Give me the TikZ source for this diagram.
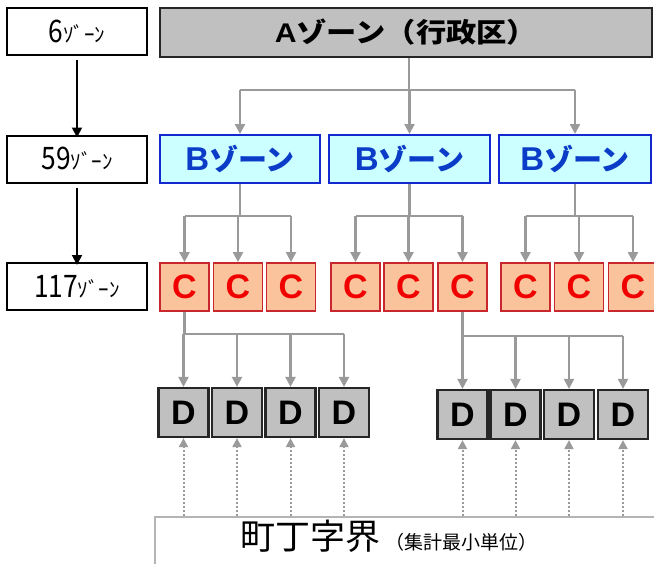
\documentclass[tikz,border=0pt]{standalone}
\usepackage{fontspec}
\setmainfont{Noto Sans CJK JP}
\newfontfamily\narrowfont[FakeStretch=0.85]{Noto Sans CJK JP}
\newfontfamily\jpwide[FakeStretch=1.12]{Noto Sans CJK JP}
\newfontfamily\lat{Liberation Sans}
\newfontfamily\latwide[FakeStretch=1.12]{Liberation Sans}
\usetikzlibrary{arrows.meta}
\definecolor{agray}{HTML}{C0C0C0}
\definecolor{bfill}{HTML}{CCFFFF}
\definecolor{bline}{HTML}{1428D0}
\definecolor{btext}{HTML}{0A3CC8}
\definecolor{cfill}{HTML}{FAC39B}
\definecolor{cline}{HTML}{C8282D}
\definecolor{ctext}{HTML}{F00000}
\definecolor{conncol}{HTML}{9A9A9A}
\definecolor{zline}{HTML}{B4B4B4}
\tikzset{
  lbox/.style={draw=black, line width=2pt, fill=white, minimum width=140pt, minimum height=47pt, inner sep=0pt},
  abox/.style={draw=black!85, line width=2.2pt, fill=agray, minimum width=492pt, minimum height=49pt, inner sep=0pt},
  bbox/.style={draw=bline, line width=2pt, fill=bfill, minimum height=48pt, inner sep=0pt, text=btext},
  cbox/.style={draw=cline, line width=1.8pt, fill=cfill, minimum width=49pt, minimum height=48pt, inner sep=0pt, text=ctext, font=\lat\fontsize{34}{34}\selectfont\bfseries},
  dbox/.style={draw=black!85, line width=2.2pt, fill=agray, minimum width=50pt, minimum height=49pt, inner sep=0pt, font=\lat\fontsize{34}{34}\selectfont\bfseries},
  conn/.style={draw=conncol, line width=2.2pt},
  carr/.style={conn, -{Triangle[length=10pt,width=10pt]}},
  larr/.style={draw=black, line width=1.8pt, -{Triangle[length=10pt,width=10pt]}},
  darr/.style={draw=conncol, line width=2pt, dotted, -{Triangle[length=9pt,width=9pt]}},
  zbox/.style={draw=zline, line width=1.4pt, fill=white, minimum width=510pt, minimum height=56pt, inner sep=0pt},
}
\newcommand{\zonelabel}[1]{{\narrowfont\fontsize{31}{31}\selectfont #1}{\fontsize{21}{21}\selectfont ｿﾞｰﾝ}}
\newcommand{\bzone}{{\lat\fontsize{33}{33}\selectfont\bfseries B}{\fontsize{29}{29}\selectfont\bfseries ゾーン}}
\begin{document}
\begin{tikzpicture}[x=1pt,y=-1pt]
\useasboundingbox (0,0) rectangle (654,563);
% left column
\node[lbox] (n6) at (77,31.5) {\zonelabel{6}};
\node[lbox] (n59) at (77,159) {\zonelabel{59}};
\node[lbox] (n117) at (77,286.5) {\zonelabel{117}};
\draw[larr] ([yshift=-4pt]n6.south) -- ([yshift=-3pt]n59.north);
\draw[larr] ([yshift=-4pt]n59.south) -- ([yshift=-3pt]n117.north);
% A
\node[abox] (a) at (406,32.5) {{\latwide\fontsize{27}{27}\selectfont\bfseries A}{\jpwide\fontsize{27}{27}\selectfont\bfseries ゾーン（行政区）}};
% B
\node[bbox, minimum width=160pt] (b1) at (240,159) {\bzone};
\node[bbox, minimum width=161pt] (b2) at (409.5,159) {\bzone};
\node[bbox, minimum width=152pt] (b3) at (575,159) {\bzone};
% C
\foreach \n/\x in {11/184.5,12/238,13/291,21/355.5,22/408.5,23/462.5,31/525.5,32/579,33/633}{
  \node[cbox] (c\n) at (\x,287) {C};
}
% D
\foreach \n/\x in {11/183.5,12/237,13/290.5,14/344}{
  \node[dbox] (d\n) at (\x,412.5) {D};
}
\foreach \n/\x in {21/462.5,22/515.5,23/569,24/623}{
  \node[dbox] (d\n) at (\x,414.5) {D};
}
% bottom
\node[zbox] (zb) at (410,545) {};
\node[font=\fontsize{35}{35}\selectfont, anchor=center] (zt) at (389,536) {町丁字界\,{\fontsize{19}{19}\selectfont （集計最小単位）}};
% A -> B
\coordinate (ja) at (409,90);
\draw[conn] (a.south -| ja) -- (ja);
\draw[conn] (ja -| b1.north) -- (ja -| b3.north);
\foreach \b in {b1,b2,b3}{ \draw[carr] (ja -| \b.north) -- (\b.north); }
% B -> C
\foreach \g in {1,2,3}{
  \coordinate (jb\g) at (b\g.south |- 0,216);
  \draw[conn] (b\g.south) -- (jb\g);
  \draw[conn] (jb\g -| c\g1.north) -- (jb\g -| c\g3.north);
  \foreach \k in {1,2,3}{ \draw[carr] (jb\g -| c\g\k.north) -- (c\g\k.north); }
}
% C -> D
\coordinate (jd1) at (c11.south |- 0,334);
\draw[conn] (c11.south) -- (jd1);
\draw[conn] (jd1) -- (jd1 -| d14.north);
\foreach \k in {11,12,13,14}{ \draw[carr] (jd1 -| d\k.north) -- (d\k.north); }
\coordinate (jd2) at (c23.south |- 0,336);
\draw[conn] (c23.south) -- (jd2);
\draw[conn] (jd2) -- (jd2 -| d24.north);
\foreach \k in {21,22,23,24}{ \draw[carr] (jd2 -| d\k.north) -- (d\k.north); }
% bottom -> D
\foreach \k in {11,12,13,14,21,22,23,24}{ \draw[darr] (zb.north -| d\k.south) -- (d\k.south); }
\end{tikzpicture}
\end{document}
